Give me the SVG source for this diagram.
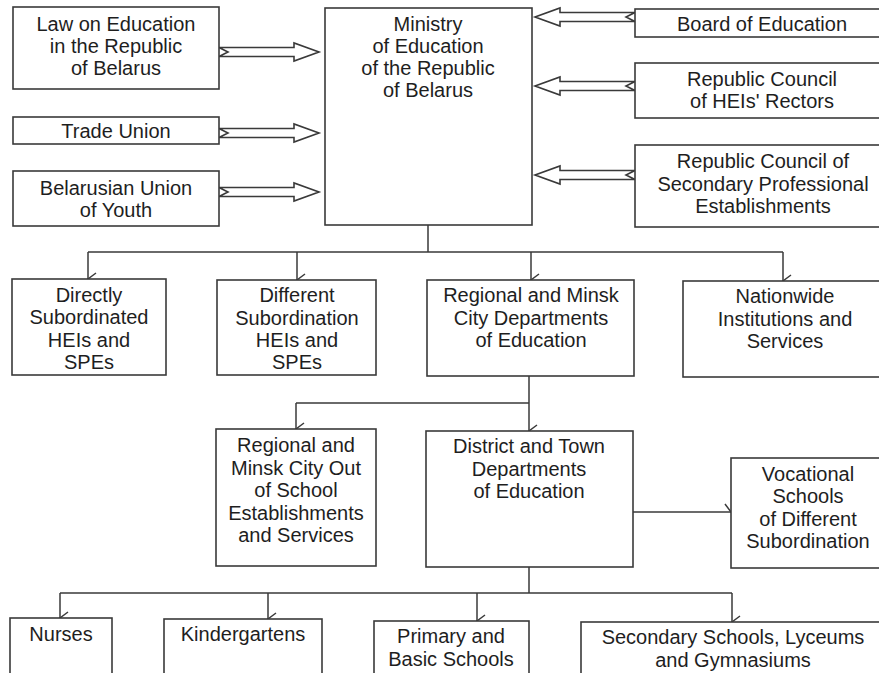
<svg xmlns="http://www.w3.org/2000/svg" xmlns:xlink="http://www.w3.org/1999/xlink" width="879" height="673" viewBox="0 0 879 673">
<style>
.box{fill:#fff;stroke:#3a3a3a;stroke-width:1.6}
.t{font-family:"Liberation Sans",Arial,sans-serif;font-size:20px;fill:#1e1e1e;text-anchor:middle}
.ln{fill:none;stroke:#3a3a3a;stroke-width:1.5}
.ha{fill:#fff;stroke:#3a3a3a;stroke-width:1.6;stroke-linejoin:miter}
</style>
<defs>
<marker id="ah" markerWidth="14" markerHeight="14" refX="7" refY="10" orient="auto" markerUnits="userSpaceOnUse" viewBox="0 0 14 14">
<path d="M1,2 L7,10 L13,2" fill="none" stroke="#3a3a3a" stroke-width="1.5"/>
</marker>
<polygon id="hollow" points="0,-4.5 75,-4.5 75,-9 100,0 75,9 75,4.5 0,4.5 9,0"/>
</defs>
<rect width="879" height="673" fill="#fff"/>

<g id="connectors">
<use xlink:href="#hollow" class="ha" transform="translate(219,52)"/>
<use xlink:href="#hollow" class="ha" transform="translate(219,133)"/>
<use xlink:href="#hollow" class="ha" transform="translate(219,192)"/>
<use xlink:href="#hollow" class="ha" transform="translate(635,17) scale(-1,1)"/>
<use xlink:href="#hollow" class="ha" transform="translate(635,86) scale(-1,1)"/>
<use xlink:href="#hollow" class="ha" transform="translate(635,175) scale(-1,1)"/>
<path class="ln" d="M428,225 V252 M88,252 H783"/>
<path class="ln" d="M88,252 V279" marker-end="url(#ah)"/>
<path class="ln" d="M297,252 V280" marker-end="url(#ah)"/>
<path class="ln" d="M531,252 V280" marker-end="url(#ah)"/>
<path class="ln" d="M783,252 V281" marker-end="url(#ah)"/>
<path class="ln" d="M529,376 V403 M296,403 H529"/>
<path class="ln" d="M296,403 V429" marker-end="url(#ah)"/>
<path class="ln" d="M529,403 V431" marker-end="url(#ah)"/>
<path class="ln" d="M633,512 H731" marker-end="url(#ah)"/>
<path class="ln" d="M529,567 V593 M60,593 H732"/>
<path class="ln" d="M60,593 V618" marker-end="url(#ah)"/>
<path class="ln" d="M268,593 V619" marker-end="url(#ah)"/>
<path class="ln" d="M477,593 V621" marker-end="url(#ah)"/>
<path class="ln" d="M732,593 V622" marker-end="url(#ah)"/>
</g>

<g id="law">
<rect class="box" x="13" y="7" width="206" height="82"/>
<text class="t" x="116" y="31">Law on Education</text>
<text class="t" x="116" y="53">in the Republic</text>
<text class="t" x="116" y="75">of Belarus</text>
</g>
<g id="trade-union">
<rect class="box" x="13" y="117" width="206" height="27"/>
<text class="t" x="116" y="138">Trade Union</text>
</g>
<g id="youth">
<rect class="box" x="13" y="171" width="206" height="55"/>
<text class="t" x="116" y="195">Belarusian Union</text>
<text class="t" x="116" y="217">of Youth</text>
</g>
<g id="ministry">
<rect class="box" x="325" y="8" width="207" height="217"/>
<text class="t" x="428" y="31">Ministry</text>
<text class="t" x="428" y="53">of Education</text>
<text class="t" x="428" y="75">of the Republic</text>
<text class="t" x="428" y="97">of Belarus</text>
</g>
<g id="board">
<rect class="box" x="635" y="9" width="260" height="28"/>
<text class="t" x="762" y="31">Board of Education</text>
</g>
<g id="rectors">
<rect class="box" x="635" y="63" width="260" height="55"/>
<text class="t" x="762" y="86">Republic Council</text>
<text class="t" x="762" y="108">of HEIs' Rectors</text>
</g>
<g id="spe-council">
<rect class="box" x="635" y="145" width="260" height="82"/>
<text class="t" x="763" y="168">Republic Council of</text>
<text class="t" x="763" y="191">Secondary Professional</text>
<text class="t" x="763" y="213">Establishments</text>
</g>

<g id="directly">
<rect class="box" x="12" y="279" width="154" height="96"/>
<text class="t" x="89" y="302">Directly</text>
<text class="t" x="89" y="324">Subordinated</text>
<text class="t" x="89" y="347">HEIs and</text>
<text class="t" x="89" y="369">SPEs</text>
</g>
<g id="different">
<rect class="box" x="217" y="280" width="159" height="95"/>
<text class="t" x="297" y="302">Different</text>
<text class="t" x="297" y="325">Subordination</text>
<text class="t" x="297" y="347">HEIs and</text>
<text class="t" x="297" y="369">SPEs</text>
</g>
<g id="regional-dept">
<rect class="box" x="427" y="280" width="207" height="96"/>
<text class="t" x="531" y="302">Regional and Minsk</text>
<text class="t" x="531" y="325">City Departments</text>
<text class="t" x="531" y="347">of Education</text>
</g>
<g id="nationwide">
<rect class="box" x="683" y="281" width="210" height="96"/>
<text class="t" x="785" y="303">Nationwide</text>
<text class="t" x="785" y="326">Institutions and</text>
<text class="t" x="785" y="348">Services</text>
</g>

<g id="out-of-school">
<rect class="box" x="216" y="429" width="160" height="137"/>
<text class="t" x="296" y="452">Regional and</text>
<text class="t" x="296" y="475">Minsk City Out</text>
<text class="t" x="296" y="497">of School</text>
<text class="t" x="296" y="520">Establishments</text>
<text class="t" x="296" y="542">and Services</text>
</g>
<g id="district">
<rect class="box" x="426" y="431" width="207" height="136"/>
<text class="t" x="529" y="453">District and Town</text>
<text class="t" x="529" y="476">Departments</text>
<text class="t" x="529" y="498">of Education</text>
</g>
<g id="vocational">
<rect class="box" x="731" y="458" width="160" height="110"/>
<text class="t" x="808" y="481">Vocational</text>
<text class="t" x="808" y="503">Schools</text>
<text class="t" x="808" y="526">of Different</text>
<text class="t" x="808" y="548">Subordination</text>
</g>

<g id="nurses">
<rect class="box" x="10" y="618" width="102" height="70"/>
<text class="t" x="61" y="641">Nurses</text>
</g>
<g id="kindergartens">
<rect class="box" x="164" y="619" width="158" height="70"/>
<text class="t" x="243" y="641">Kindergartens</text>
</g>
<g id="primary">
<rect class="box" x="374" y="621" width="155" height="70"/>
<text class="t" x="451" y="643">Primary and</text>
<text class="t" x="451" y="666">Basic Schools</text>
</g>
<g id="secondary">
<rect class="box" x="581" y="622" width="310" height="70"/>
<text class="t" x="733" y="644">Secondary Schools, Lyceums</text>
<text class="t" x="733" y="667">and Gymnasiums</text>
</g>
</svg>
